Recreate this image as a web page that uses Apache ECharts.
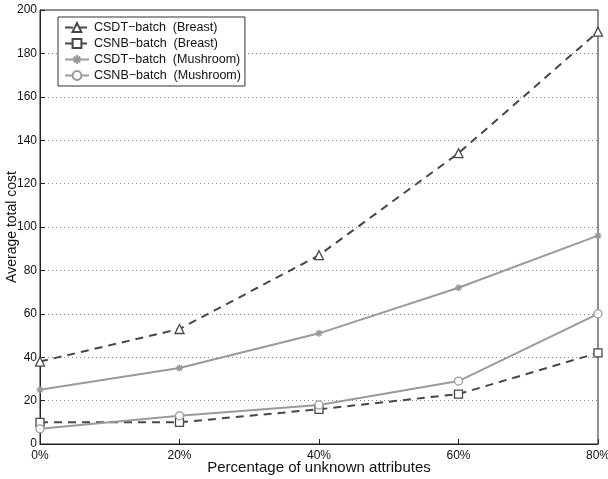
<!DOCTYPE html>
<html><head><meta charset="utf-8">
<script src="https://cdn.jsdelivr.net/npm/echarts@6/dist/echarts.min.js"></script>
<style>html,body{margin:0;padding:0;background:#fff}#c{width:608px;height:479px}</style>
</head><body><div id="c"></div>
<script>
const xValues = [0, 20, 40, 60, 80];
const seriesNames = ['CSDT\u2212batch  (Breast)', 'CSNB\u2212batch  (Breast)', 'CSDT\u2212batch  (Mushroom)', 'CSNB\u2212batch  (Mushroom)'];
const csdtBreast = [38, 53, 87, 134, 190];
const csnbBreast = [10, 10, 16, 23, 42];
const csdtMushroom = [25, 35, 51, 72, 96];
const csnbMushroom = [7, 13, 18, 29, 60];
const yTicks = [0, 20, 40, 60, 80, 100, 120, 140, 160, 180, 200];

const star = 'path://M0,-10 L0,10 M-10,0 L10,0 M-7,-7 L7,7 M-7,7 L7,-7';
const dark = '#474747', gray = '#9a9a9a';
function pts(arr){ return xValues.map((x,i)=>[x, arr[i]]); }
function mk(name, data, color, dashed, symbol, size){
  return {
    name, type:'line', data: pts(data), symbol, symbolSize: size,
    showAllSymbol:true,
    lineStyle:{color, width: 2, type: dashed?[8,6]:'solid'},
    itemStyle:{color: symbol===star ? color : '#fff', borderColor: color, borderWidth: symbol===star?1.5:1.3},
    emphasis:{disabled:true}, animation:false
  };
}
const chart = echarts.init(document.getElementById('c'), null, {renderer:'canvas'});
const font = 'Liberation Sans, Arial, sans-serif';
chart.setOption({
  backgroundColor:'#fff',
  animation:false,
  grid:{left:40, right:10, top:10, bottom:35, outerBoundsMode:'none', containLabel:false, show:true, borderColor:'#222', borderWidth:1},
  legend:{
    orient:'vertical', left:58, top:17, data: seriesNames,
    backgroundColor:'#fff', borderColor:'#333', borderWidth:1,
    padding:[4,4,4,6], itemGap:3, itemWidth:24, itemHeight:11,
    textStyle:{fontFamily:font, fontSize:12.5, color:'#111'}
  },
  xAxis:{
    type:'value', min:0, max:80, interval:20,
    name:'Percentage of unknown attributes', nameLocation:'middle', nameGap:16, nameMoveOverlap:false,
    nameTextStyle:{fontFamily:font, fontSize:15, color:'#111', verticalAlign:'top'},
    axisLine:{show:true, onZero:false, lineStyle:{color:'#222'}},
    axisTick:{show:true, inside:true, length:5, lineStyle:{color:'#222'}},
    axisLabel:{formatter:'{value}%', fontFamily:font, fontSize:12, color:'#111', margin:6},
    splitLine:{show:false}
  },
  yAxis:{
    type:'value', min:yTicks[0], max:yTicks[yTicks.length-1], interval:20,
    name:'Average total cost', nameLocation:'middle', nameGap:21, nameMoveOverlap:false,
    nameTextStyle:{fontFamily:font, fontSize:14, color:'#111'},
    axisLine:{show:true, lineStyle:{color:'#222'}},
    axisTick:{show:true, inside:true, length:5, lineStyle:{color:'#222'}},
    axisLabel:{fontFamily:font, fontSize:12, color:'#111', margin:3},
    splitLine:{show:true, lineStyle:{color:'#888', type:[1,3], width:1}}
  },
  series:[
    mk(seriesNames[0], csdtBreast, dark, true, 'triangle', 9),
    mk(seriesNames[1], csnbBreast, dark, true, 'rect', 8),
    mk(seriesNames[2], csdtMushroom, gray, false, star, 7),
    mk(seriesNames[3], csnbMushroom, gray, false, 'circle', 8)
  ]
});
</script></body></html>
